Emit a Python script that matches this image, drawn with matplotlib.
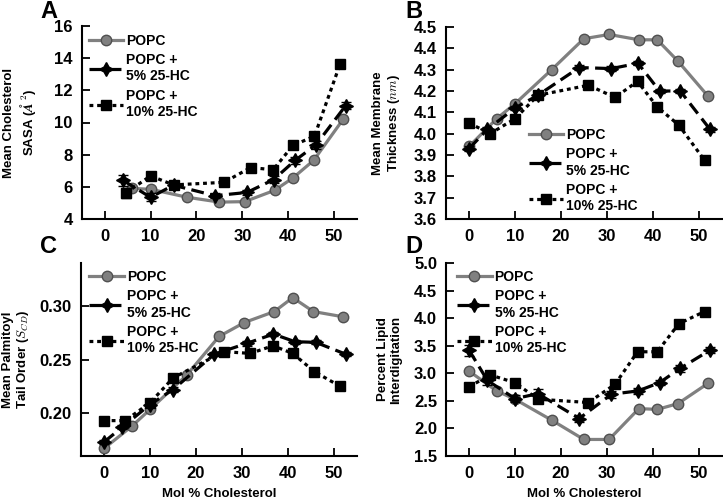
import matplotlib
matplotlib.use("Agg")
import matplotlib.pyplot as plt
from matplotlib.lines import Line2D
import numpy as np

plt.rcParams['font.family'] = ['Liberation Sans', 'DejaVu Sans']
plt.rcParams['font.weight'] = 'bold'
plt.rcParams['mathtext.fontset'] = 'cm'

# x positions (mol % cholesterol)
x_popc = [0, 6, 10, 18, 25, 30.5, 37, 41, 45.5, 52]
x_hc5 = [0, 4, 10, 15, 24, 31, 36.8, 41.5, 46, 52.5]
x_hc10 = [0, 4.6, 10, 15, 26, 31.8, 36.7, 41, 45.7, 51.3]

# Panel A: Mean cholesterol SASA (no 0% cholesterol point)
a_popc = [5.9, 5.85, 5.35, 5.05, 5.08, 5.78, 6.55, 7.64, 10.22]
a_hc5 = [6.4, 5.35, 6.1, 5.45, 5.65, 6.45, 7.65, 8.6, 11.05]
a_hc10 = [5.62, 6.68, 6.12, 6.28, 7.2, 7.06, 8.57, 9.15, 13.65]
a_popc_err = [0.1, 0.1, 0.08, 0.08, 0.08, 0.1, 0.1, 0.1, 0.12]
a_hc5_err = [0.35, 0.25, 0.15, 0.15, 0.15, 0.2, 0.2, 0.25, 0.2]
a_hc10_err = [0.3, 0.25, 0.15, 0.15, 0.15, 0.2, 0.2, 0.25, 0.2]

# Panel B: Mean membrane thickness (nm)
b_popc = [3.94, 4.07, 4.14, 4.30, 4.445, 4.465, 4.44, 4.44, 4.34, 4.177]
b_hc5 = [3.93, 4.02, 4.12, 4.18, 4.31, 4.305, 4.33, 4.20, 4.20, 4.02]
b_hc10 = [4.05, 4.00, 4.07, 4.18, 4.227, 4.17, 4.245, 4.125, 4.04, 3.875]
b_err = [0.01] * 10

# Panel C: Mean palmitoyl tail order (S_CD)
c_popc = [0.167, 0.1876, 0.2034, 0.2356, 0.2715, 0.2845, 0.2947, 0.3077, 0.2947, 0.2898]
c_hc5 = [0.173, 0.187, 0.208, 0.222, 0.255, 0.265, 0.2737, 0.2666, 0.266, 0.255]
c_hc10 = [0.193, 0.193, 0.2096, 0.2328, 0.2573, 0.2557, 0.2628, 0.2557, 0.2387, 0.225]
c_err = [0.002] * 10

# Panel D: Percent lipid interdigitation
d_popc = [3.04, 2.68, 2.53, 2.15, 1.80, 1.80, 2.36, 2.345, 2.45, 2.815]
d_hc5 = [3.42, 2.87, 2.54, 2.63, 2.18, 2.62, 2.68, 2.83, 3.09, 3.42]
d_hc10 = [2.755, 2.97, 2.83, 2.53, 2.47, 2.80, 3.39, 3.39, 3.90, 4.12]
d_popc_err = [0.05] * 10
d_hc5_err = [0.1, 0.08, 0.06, 0.08, 0.06, 0.06, 0.05, 0.05, 0.06, 0.05]
d_hc10_err = [0.06, 0.06, 0.05, 0.06, 0.05, 0.06, 0.07, 0.06, 0.05, 0.05]

labels = ['POPC', 'POPC +\n5% 25-HC', 'POPC +\n10% 25-HC']
xticks = [0, 10, 20, 30, 40, 50]

GRAY = '#808080'
S1 = dict(color=GRAY, lw=2.3, ls='-', marker='o', ms=7.5, mfc=GRAY, mec='#505050', mew=1.0)
S2 = dict(color='black', lw=2.3, ls=(0, (4, 2)), marker=(4, 1, 0), ms=10, mfc='black', mec='black')
S3 = dict(color='black', lw=2.3, ls=(0, (1.2, 1.2)), marker='s', ms=6.5, mfc='black', mec='black')

fig = plt.figure(figsize=(7.23, 5.0), dpi=100)

positions = {
    'A': [0.113, 0.562, 0.381, 0.386],
    'B': [0.617, 0.562, 0.381, 0.384],
    'C': [0.112, 0.088, 0.382, 0.386],
    'D': [0.617, 0.088, 0.381, 0.386],
}


def draw(ax, xp, yp, ep, x5, y5, e5, x10, y10, e10):
    ax.errorbar(xp, yp, yerr=ep, ecolor=GRAY, elinewidth=1.3, capsize=3, zorder=3, **S1)
    ax.errorbar(x5, y5, yerr=e5, ecolor='black', elinewidth=1.3, capsize=3.5, zorder=4, **S2)
    ax.errorbar(x10, y10, yerr=e10, ecolor='black', elinewidth=1.3, capsize=3.5, zorder=5, **S3)


def style(ax):
    for s in ['top', 'right']:
        ax.spines[s].set_visible(False)
    for s in ['left', 'bottom']:
        ax.spines[s].set_linewidth(1.5)
    ax.tick_params(direction='in', length=6, width=1.3, labelsize=12)
    ax.tick_params(axis='x', pad=7.5)
    ax.tick_params(axis='y', pad=6.5)
    ax.set_xlim(-5, 55)
    ax.set_xticks(xticks)
    for lab in ax.get_xticklabels() + ax.get_yticklabels():
        lab.set_fontweight('bold')


def legend(ax, x, y):
    handles = [Line2D([], [], **S1), Line2D([], [], **S2), Line2D([], [], **S3)]
    ax.legend(handles, labels, loc='upper left', bbox_to_anchor=(x, y), frameon=False,
              prop={'size': 10, 'weight': 'bold'}, handlelength=2.5, handletextpad=0.2,
              labelspacing=0.4, borderpad=0, borderaxespad=0, numpoints=1)


def ylabel(ax, text, xpos):
    ax.set_ylabel(text, fontsize=9.5, fontweight='bold', linespacing=1.15)
    ax.yaxis.set_label_coords(xpos, 0.5)


def xlabel(ax):
    ax.set_xlabel('Mol % Cholesterol', fontsize=9.5, fontweight='bold')
    ax.xaxis.set_label_coords(0.5, -0.165)


# Panel A
axA = fig.add_axes(positions['A'])
draw(axA, x_popc[1:], a_popc, a_popc_err, x_hc5[1:], a_hc5, a_hc5_err,
     x_hc10[1:], a_hc10, a_hc10_err)
style(axA)
axA.set_ylim(4, 16)
axA.set_yticks([4, 6, 8, 10, 12, 14, 16])
ylabel(axA, 'Mean Cholesterol\nSASA ($\\AA^2$)', -0.16)
legend(axA, 0.025, 0.96)

# Panel B
axB = fig.add_axes(positions['B'])
draw(axB, x_popc, b_popc, b_err, x_hc5, b_hc5, b_err, x_hc10, b_hc10, b_err)
style(axB)
axB.set_ylim(3.6, 4.5)
bt = [3.6, 3.7, 3.8, 3.9, 4.0, 4.1, 4.2, 4.3, 4.4, 4.5]
axB.set_yticks(bt)
axB.set_yticklabels(['%.1f' % v for v in bt], fontweight='bold')
ylabel(axB, 'Mean Membrane\nThickness ($nm$)', -0.16)
legend(axB, 0.30, 0.475)

# Panel C
axC = fig.add_axes(positions['C'])
draw(axC, x_popc, c_popc, c_err, x_hc5, c_hc5, c_err, x_hc10, c_hc10, c_err)
style(axC)
axC.set_ylim(0.16, 0.34)
axC.set_yticks([0.20, 0.25, 0.30])
axC.set_yticklabels(['0.20', '0.25', '0.30'], fontweight='bold')
ylabel(axC, 'Mean Palmitoyl\nTail Order ($S_{CD}$)', -0.18)
xlabel(axC)
legend(axC, 0.03, 0.965)

# Panel D
axD = fig.add_axes(positions['D'])
draw(axD, x_popc, d_popc, d_popc_err, x_hc5, d_hc5, d_hc5_err, x_hc10, d_hc10, d_hc10_err)
style(axD)
axD.set_ylim(1.5, 5.0)
dt = [1.5, 2.0, 2.5, 3.0, 3.5, 4.0, 4.5, 5.0]
axD.set_yticks(dt)
axD.set_yticklabels(['%.1f' % v for v in dt], fontweight='bold')
ylabel(axD, 'Percent Lipid\nInterdigitation', -0.16)
xlabel(axD)
legend(axD, 0.04, 0.965)

# Panel letters
for letter, (px, py) in {'A': (40, 18), 'B': (405, 18), 'C': (40, 253), 'D': (405, 253)}.items():
    fig.text(px / 723, 1 - py / 500, letter, fontsize=17, fontweight='bold', ha='left', va='baseline')

fig.savefig('out.png', dpi=100)
